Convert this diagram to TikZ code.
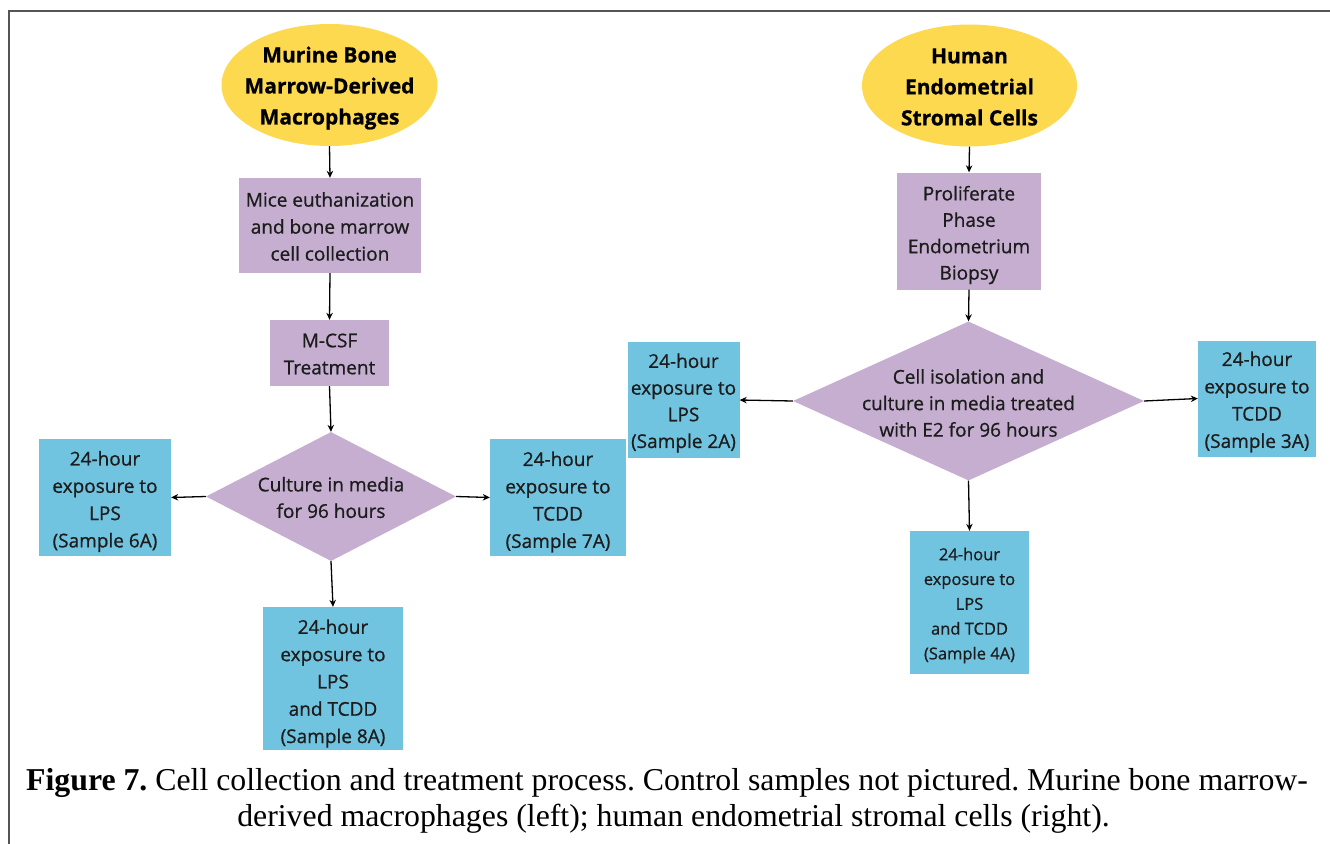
\documentclass[tikz,border=0pt]{standalone}
\usepackage{fontspec}
\setmainfont{Liberation Serif}
\newfontfamily\boxfont[FakeBold=0.8]{Open Sans}
\usetikzlibrary{shapes.geometric,arrows.meta}
\definecolor{ellyellow}{RGB}{253,217,80}
\definecolor{lav}{RGB}{197,174,207}
\definecolor{sky}{RGB}{113,196,224}
\definecolor{txt}{RGB}{28,28,28}
\definecolor{framegray}{RGB}{85,85,85}
\begin{document}
\frenchspacing
\begin{tikzpicture}[x=1pt,y=-1pt,
  srcell/.style={ellipse, fill=ellyellow, inner sep=0pt},
  srctext/.style={inner sep=0pt, align=center, text=black, font=\boxfont\bfseries\fontsize{21}{31}\selectfont},
  stepbox/.style={rectangle, fill=lav, inner sep=0pt},
  samplebox/.style={rectangle, fill=sky, inner sep=0pt},
  decision/.style={diamond, fill=lav, inner sep=0pt},
  boxtext/.style={inner sep=0pt, align=center, text=txt, font=\boxfont\fontsize{19}{27}\selectfont},
  sampletext/.style={boxtext, font=\boxfont\fontsize{19}{27.3}\selectfont},
  smalltext/.style={boxtext, font=\boxfont\fontsize{16.5}{24.8}\selectfont},
  dtext/.style={boxtext, font=\boxfont\fontsize{19}{26.5}\selectfont},
  arr/.style={-{Stealth[length=7pt,width=6.5pt]}, line width=1.3pt, black},
  captxt/.style={inner sep=0pt, anchor=base, font=\fontsize{31.8}{36}\selectfont}]
\useasboundingbox (0,0) rectangle (1330,843);
\fill[white] (0,0) rectangle (1330,843);
\draw[framegray, line width=2pt] (8.5,845) -- (8.5,11) -- (1332,11);

% ---- left column
\node[srcell, minimum width=216pt, minimum height=122pt] (e1) at (329.5,85) {};
\node[srctext] (e1t) at ([yshift=-3pt]e1.center) {Murine Bone\\Marrow-Derived\\Macrophages};
\node[stepbox, minimum width=182pt, minimum height=95pt] (b1) at (330,225.5) {};
\node[boxtext] (b1t) at ([yshift=-1pt]b1.center) {Mice euthanization\\and bone marrow\\cell collection};
\node[stepbox, minimum width=119pt, minimum height=66pt] (b2) at (329.5,353) {};
\node[boxtext] (b2t) at ([yshift=-1pt]b2.center) {M-CSF\\Treatment};
\node[decision, minimum width=250pt, minimum height=129pt] (d1) at (331,496.5) {};
\node[dtext] (d1t) at ([yshift=-1pt]d1.center) {Culture in media\\for 96 hours};
\node[samplebox, minimum width=132pt, minimum height=117pt] (s6) at (105,497.5) {};
\node[sampletext] (s6t) at ([yshift=-4pt]s6.center) {24-hour\\exposure to\\LPS\\(Sample 6A)};
\node[samplebox, minimum width=136pt, minimum height=117pt] (s7) at (558,497.5) {};
\node[sampletext] (s7t) at ([yshift=-4.5pt]s7.center) {24-hour\\exposure to\\TCDD\\(Sample 7A)};
\node[samplebox, minimum width=140pt, minimum height=143pt] (s8) at (333,678.5) {};
\node[sampletext] (s8t) at ([yshift=-5pt]s8.center) {24-hour\\exposure to\\LPS\\and TCDD\\(Sample 8A)};

% ---- right column
\node[srcell, minimum width=215pt, minimum height=122pt] (e2) at (969.5,85.5) {};
\node[srctext] (e2t) at ([yshift=-1.5pt]e2.center) {Human\\Endometrial\\Stromal Cells};
\node[stepbox, minimum width=144pt, minimum height=117pt] (b3) at (969,231) {};
\node[boxtext, font=\boxfont\fontsize{19}{26.4}\selectfont] (b3t) at ([yshift=-4pt]b3.center) {Proliferate\\Phase\\Endometrium\\Biopsy};
\node[decision, minimum width=351pt, minimum height=159pt] (d2) at (968.5,401) {};
\node[dtext] (d2t) at ([yshift=-2pt]d2.center) {Cell isolation and\\culture in media treated\\with E2 for 96 hours};
\node[samplebox, minimum width=112pt, minimum height=116pt] (s2) at (683.5,400) {};
\node[sampletext, font=\boxfont\fontsize{19}{26.7}\selectfont] (s2t) at ([yshift=-3pt]s2.center) {24-hour\\exposure to\\LPS\\(Sample 2A)};
\node[samplebox, minimum width=118pt, minimum height=116pt] (s3) at (1257,398.5) {};
\node[sampletext] (s3t) at ([yshift=-3.5pt]s3.center) {24-hour\\exposure to\\TCDD\\(Sample 3A)};
\node[samplebox, minimum width=119pt, minimum height=143pt] (s4) at (969.5,602.5) {};
\node[smalltext] (s4t) at ([yshift=-3pt]s4.center) {24-hour\\exposure to\\LPS\\and TCDD\\(Sample 4A)};

% ---- connectors
\draw[arr] (e1.south) -- (b1.north);
\draw[arr] (b1.south) -- (b2.north);
\draw[arr] (b2.south) -- (d1.north);
\draw[arr] (d1.west) -- (s6.east);
\draw[arr] (d1.east) -- (s7.west);
\draw[arr] (d1.south) -- (s8.north);
\draw[arr] (e2.south) -- (b3.north);
\draw[arr] (b3.south) -- (d2.north);
\draw[arr] (d2.west) -- (s2.east);
\draw[arr] (d2.east) -- (s3.west);
\draw[arr] (d2.south) -- (s4.north);

% ---- caption
\node[captxt] (cap1) at (667,790) {\textbf{Figure 7.} Cell collection and treatment process. Control samples not pictured. Murine bone marrow-};
\node[captxt] (cap2) at (673.5,826) {derived macrophages (left); human endometrial stromal cells (right).};
\end{tikzpicture}
\end{document}
